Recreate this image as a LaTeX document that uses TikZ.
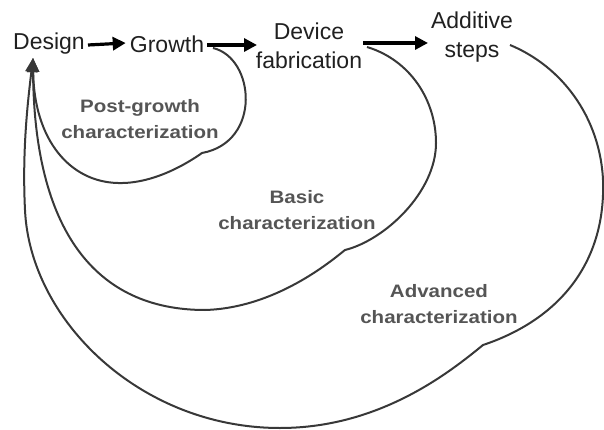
\documentclass[tikz,border=0pt]{standalone}
\usepackage{graphicx}
\usepackage{fontspec}
\setmainfont{Liberation Sans}
\usetikzlibrary{arrows.meta}
\definecolor{txt}{HTML}{202020}
\definecolor{lab}{HTML}{555555}
\definecolor{crv}{HTML}{383838}
\newcommand{\widelab}[1]{\scalebox{1.14}[1]{\begin{tabular}{@{}c@{}}#1\end{tabular}}}
\tikzset{
  stage/.style={inner sep=0pt, text=txt, align=center, font=\fontsize{23}{29}\selectfont},
  charlab/.style={inner sep=0pt, text=lab, font=\bfseries\fontsize{18}{26}\selectfont},
  flow/.style={line width=3.2pt, black, -{Triangle[length=13pt,width=13pt]}},
  loop/.style={line width=2pt, crv, -{Triangle[length=14pt,width=12pt]}}
}
\begin{document}
\begin{tikzpicture}[x=1pt,y=-1pt]
\useasboundingbox (0,0) rectangle (604,430);
\node[stage] (design) at (49,44) {Design};
\node[stage] (growth) at (167,44) {Growth};
\node[stage] (device) at (309,46) {Device\\fabrication};
\node[stage] (additive) at (472,37) {Additive\\steps};
\node[charlab] (pgc) at (140,120) {\widelab{Post-growth\\characterization}};
\node[charlab] (bc) at (297,211) {\widelab{Basic\\characterization}};
\node[charlab] (ac) at (439,305) {\widelab{Advanced\\characterization}};
\coordinate (tip) at (33,58);
\coordinate (s1) at (213,48);
\coordinate (s2) at (367,47);
\coordinate (s3) at (510,45);
\draw[flow] (design.east) ++(3,1) -- ([xshift=-4pt,yshift=1pt]growth.west);
\draw[flow] (growth.east) ++(3,1) -- (257,45);
\draw[flow] (363,43) -- (428,43);
% post-growth loop
\draw[loop] (s1) .. controls (255,58) and (262,142) .. (202,153)
  .. controls (185,165) and (152,184) .. (118,183)
  .. controls (70,182) and (34,140) .. (tip);
% basic loop
\draw[loop] (s2) .. controls (410,60) and (436,100) .. (436,143)
  .. controls (436,192) and (385,240) .. (345,250)
  .. controls (330,262) and (275,308) .. (205,310)
  .. controls (95,310) and (34,230) .. (tip);
% advanced loop
\draw[loop] (s3) .. controls (570,70) and (606,130) .. (603,195)
  .. controls (600,272) and (552,322) .. (483,345)
  .. controls (450,372) and (380,428) .. (280,428)
  .. controls (140,428) and (30,320) .. (25,210)
  .. controls (22,150) and (28,100) .. (tip);
\end{tikzpicture}
\end{document}
